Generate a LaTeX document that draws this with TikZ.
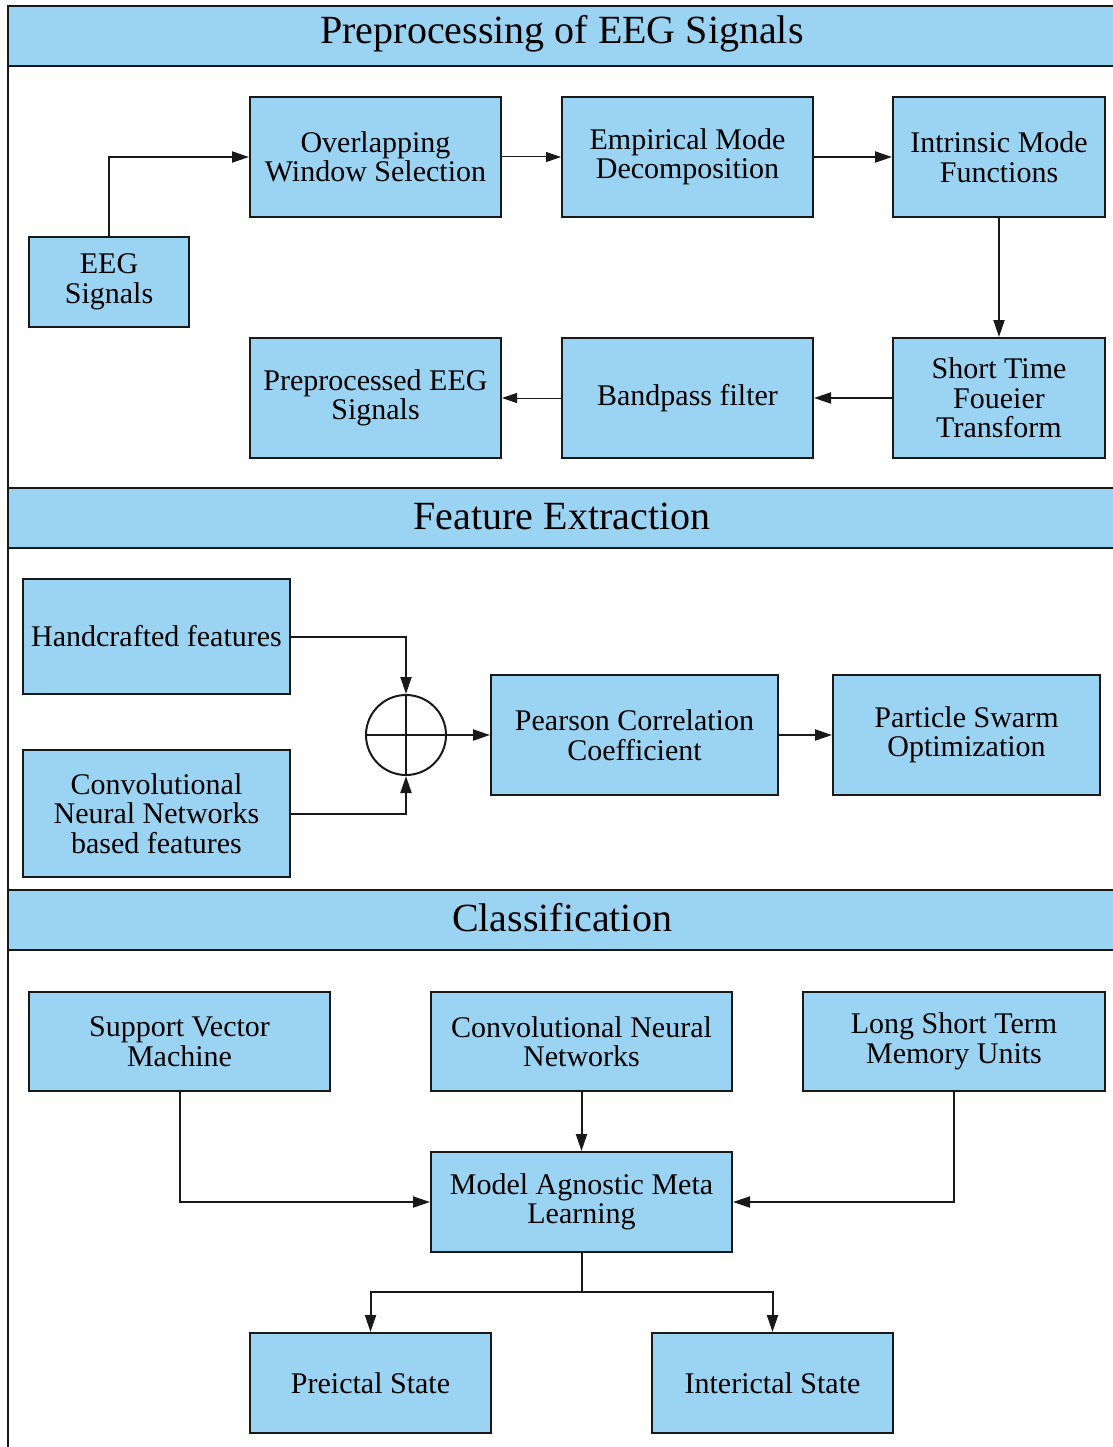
\documentclass[tikz,border=0pt]{standalone}
\usepackage{fontspec}
\setmainfont{Liberation Serif}
\usetikzlibrary{arrows.meta}
\definecolor{boxblue}{RGB}{155,211,242}
\definecolor{ink}{RGB}{25,25,25}
\tikzset{
  blk/.style={draw=ink, line width=2pt, fill=boxblue, inner sep=0pt,
    align=center, font=\fontsize{30}{29.5}\selectfont},
  band/.style={draw=ink, line width=2pt, fill=boxblue},
  bandtext/.style={font=\fontsize{40}{40}\selectfont, inner sep=0pt},
  arr/.style={draw=ink, line width=2pt, -{Triangle[length=17pt,width=11pt]}},
  thinarr/.style={draw=ink, line width=1pt, -{Triangle[length=15pt,width=10pt]}},
  wire/.style={draw=ink, line width=2pt}
}
\begin{document}
\begin{tikzpicture}[x=1pt, y=-1pt]
\useasboundingbox (0,0) rectangle (1112,1447);

% section frame and header bands
\draw[wire] (8,6) -- (8,1450);
\draw[band] (8,6) rectangle (1116,66);
\node[bandtext] (h1) at (562,34) {Preprocessing of EEG Signals};
\draw[band] (8,488) rectangle (1116,548);
\node[bandtext] (h2) at (562,516) {Feature Extraction};
\draw[band] (8,890) rectangle (1116,950);
\node[bandtext] (h3) at (562,918) {Classification};

% preprocessing blocks
\node[blk, minimum width=160pt, minimum height=90pt] (eeg) at (109,282) {EEG\\Signals};
\node[blk, minimum width=251pt, minimum height=120pt] (ows) at (375.5,157) {Overlapping\\Window Selection};
\node[blk, minimum width=251pt, minimum height=120pt] (emd) at (687.5,157) {Empirical Mode\\Decomposition};
\node[blk, minimum width=212pt, minimum height=120pt] (imf) at (999,157) {Intrinsic Mode\\Functions};
\node[blk, minimum width=212pt, minimum height=120pt] (stft) at (999,398) {Short Time\\Foueier\\Transform};
\node[blk, minimum width=251pt, minimum height=120pt] (bpf) at (687.5,398) {Bandpass filter};
\node[blk, minimum width=251pt, minimum height=120pt] (pre) at (375.5,398) {Preprocessed EEG\\Signals};

\draw[arr] (eeg.north) |- (ows.west);
\draw[thinarr] (ows.east) -- (emd.west);
\draw[arr] (emd.east) -- (imf.west);
\draw[arr] (imf.south) -- (stft.north);
\draw[arr] (stft.west) -- (bpf.east);
\draw[thinarr] (bpf.west) -- (pre.east);

% feature extraction blocks
\node[blk, minimum width=267pt, minimum height=115pt] (hand) at (156.5,636.5) {Handcrafted features};
\node[blk, minimum width=267pt, minimum height=127pt] (cnnf) at (156.5,813.5) {Convolutional\\Neural Networks\\based features};
\node[circle, draw=ink, line width=2pt, minimum size=80pt, inner sep=0pt] (sum) at (406,735) {};
\draw[wire] (sum.north) -- (sum.south) (sum.west) -- (sum.east);
\node[blk, minimum width=287pt, minimum height=120pt] (pcc) at (634.5,735) {Pearson Correlation\\Coefficient};
\node[blk, minimum width=267pt, minimum height=120pt] (pso) at (966.5,735) {Particle Swarm\\Optimization};

\draw[arr] (hand.east) -| (sum.north);
\draw[arr] (cnnf.east) -| (sum.south);
\draw[arr] (sum.east) -- (pcc.west);
\draw[arr] (pcc.east) -- (pso.west);

% classification blocks
\node[blk, minimum width=301pt, minimum height=99pt] (svm) at (179.5,1041.5) {Support Vector\\Machine};
\node[blk, minimum width=301pt, minimum height=99pt] (cnn) at (581.5,1041.5) {Convolutional Neural\\Networks};
\node[blk, minimum width=302pt, minimum height=99pt] (lstm) at (954,1041.5) {Long Short Term\\Memory Units};
\node[blk, minimum width=301pt, minimum height=100pt] (maml) at (581.5,1202) {Model Agnostic Meta\\Learning};
\node[blk, minimum width=241pt, minimum height=100pt] (prei) at (370.5,1383) {Preictal State};
\node[blk, minimum width=241pt, minimum height=100pt] (inter) at (772.5,1383) {Interictal State};
\coordinate (split) at (581.5,1292);

\draw[arr] (svm.south) |- (maml.west);
\draw[arr] (cnn.south) -- (maml.north);
\draw[arr] (lstm.south) |- (maml.east);
\draw[wire] (maml.south) -- (split);
\draw[arr] (split) -| (prei.north);
\draw[arr] (split) -| (inter.north);
\end{tikzpicture}
\end{document}
